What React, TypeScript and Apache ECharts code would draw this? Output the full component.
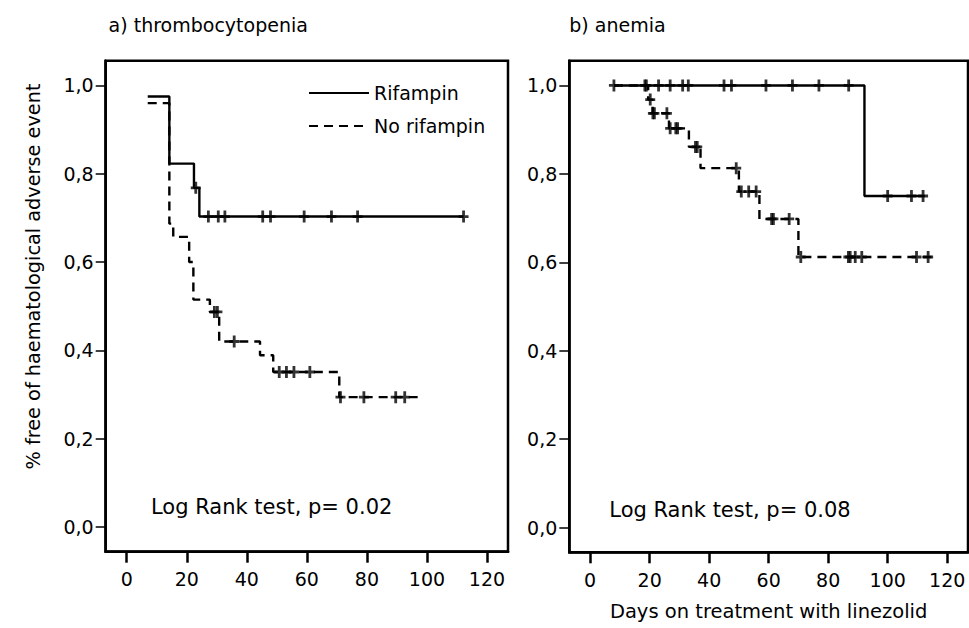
import React, { useEffect, useRef } from "react";
import * as echarts from "echarts";

const FONT = '"DejaVu Sans", "Liberation Sans", sans-serif';

const xTicks = [0, 20, 40, 60, 80, 100, 120];
const yTicks = [0, 0.2, 0.4, 0.6, 0.8, 1.0];

const panelTitles = ["a) thrombocytopenia", "b) anemia"];
const groupNames = ["Rifampin", "No rifampin"];
const logRankTexts = ["Log Rank test, p= 0.02", "Log Rank test, p= 0.08"];
const yTitle = "% free of haematological adverse event";
const xTitle = "Days on treatment with linezolid";

// a) thrombocytopenia — Kaplan-Meier steps [day, proportion free]
const thrombRifSteps = [
  [7, 0.975], [14.2, 0.823], [22.4, 0.768], [24.2, 0.703], [112.2, 0.703],
];
const thrombRifCensored = [
  [23, 0.768], [27.2, 0.703], [30.5, 0.703], [32.7, 0.703], [45.3, 0.703],
  [47.9, 0.703], [59.1, 0.703], [68.2, 0.703], [76.9, 0.703], [112.2, 0.703],
];
const thrombNoRifSteps = [
  [7, 0.96], [14.2, 0.687], [15.5, 0.657], [20.8, 0.6], [22.2, 0.515],
  [27.7, 0.487], [30.8, 0.42], [44.4, 0.389], [48.8, 0.351], [70.8, 0.294],
  [98.2, 0.294],
];
const thrombNoRifCensored = [
  [29.2, 0.487], [30.2, 0.487], [35.8, 0.42], [50.8, 0.351], [53.2, 0.351],
  [55.7, 0.351], [61, 0.351], [71.2, 0.294], [79, 0.294], [89.6, 0.294],
  [92.6, 0.294],
];

// b) anemia
const anemRifSteps = [[8, 1.0], [92.2, 0.75], [112.5, 0.75]];
const anemRifCensored = [
  [8, 1.0], [18.4, 1.0], [18.9, 1.0], [23, 1.0], [26.9, 1.0], [31.1, 1.0],
  [33, 1.0], [45, 1.0], [47.5, 1.0], [59.1, 1.0], [68, 1.0], [76.9, 1.0],
  [86.9, 1.0], [100, 0.75], [108, 0.75], [111.9, 0.75],
];
const anemNoRifSteps = [
  [8, 1.0], [19.5, 0.968], [21, 0.937], [26.5, 0.903], [33.2, 0.861],
  [37.1, 0.813], [50, 0.76], [56.9, 0.698], [70, 0.612], [114.9, 0.612],
];
const anemNoRifCensored = [
  [20.2, 0.968], [21.1, 0.937], [21.6, 0.937], [25.8, 0.937], [26.9, 0.903],
  [28.8, 0.903], [29.4, 0.903], [35.4, 0.861], [36, 0.861], [49.1, 0.813],
  [50.8, 0.76], [53.3, 0.76], [55.8, 0.76], [61, 0.698], [61.6, 0.698],
  [66.9, 0.698], [70.8, 0.612], [86.8, 0.612], [87.4, 0.612], [89.1, 0.612],
  [91.3, 0.612], [109.7, 0.612], [113.6, 0.612],
];

const PLUS = "path://M3.6,0H6.4V4.6H10V7.4H6.4V12H3.6V7.4H0V4.6H3.6Z";

export default function App() {
  const ref = useRef<HTMLDivElement>(null);

  useEffect(() => {
    if (!ref.current) return;
    const chart = echarts.init(ref.current, undefined, { renderer: "svg" });

    const grids = [
      { left: 105.7, top: 60.7, width: 402.3, height: 491 },
      { left: 569.3, top: 60.7, width: 398.7, height: 491.6 },
    ].map((g) => ({
      ...g,
      show: true,
      containLabel: false,
      outerBoundsMode: "none",
      borderColor: "#000",
      borderWidth: 2.5,
      backgroundColor: "transparent",
    }));

    const xAxis = [0, 1].map((i) => ({
      type: "value",
      gridIndex: i,
      min: -7,
      max: 127,
      axisLine: { show: true, onZero: false, lineStyle: { color: "#000", width: 2.5 } },
      axisTick: {
        show: true,
        customValues: xTicks,
        length: 11,
        lineStyle: { color: "#000", width: 2.5 },
      },
      axisLabel: {
        customValues: xTicks,
        margin: 18,
        color: "#000",
        fontSize: 19,
        fontFamily: FONT,
      },
      splitLine: { show: false },
      name: i === 1 ? xTitle : "",
      nameLocation: "middle",
      nameGap: 49,
      nameTextStyle: { color: "#000", fontSize: 19.5, fontFamily: FONT },
    }));

    const yAxis = [0, 1].map((i) => ({
      type: "value",
      gridIndex: i,
      min: -0.056,
      max: 1.056,
      axisLine: { show: true, onZero: false, lineStyle: { color: "#000", width: 2.5 } },
      axisTick: {
        show: true,
        customValues: yTicks,
        length: 10,
        lineStyle: { color: "#000", width: 1.5 },
      },
      axisLabel: {
        customValues: yTicks,
        margin: 12,
        color: "#000",
        fontSize: 19,
        fontFamily: FONT,
        formatter: (v: number) => v.toFixed(1).replace(".", ","),
      },
      splitLine: { show: false },
    }));

    const stepLine = (name: string, data: number[][], idx: number, dashed: boolean) => ({
      type: "line",
      name,
      xAxisIndex: idx,
      yAxisIndex: idx,
      data,
      step: "end",
      symbol: "none",
      showSymbol: false,
      lineStyle: { color: "#000", width: 2.4, type: dashed ? [9, 6] : "solid" },
      itemStyle: { color: "#000" },
      z: 3,
    });
    const censors = (name: string, data: number[][], idx: number) => ({
      type: "scatter",
      name,
      xAxisIndex: idx,
      yAxisIndex: idx,
      data,
      symbol: PLUS,
      symbolSize: [10, 12],
      itemStyle: { color: "#000" },
      z: 4,
    });

    chart.setOption({
      animation: false,
      textStyle: { fontFamily: FONT },
      grid: grids,
      xAxis,
      yAxis,
      legend: {
        data: groupNames,
        orient: "vertical",
        left: 308,
        top: 83,
        itemWidth: 60,
        itemHeight: 14,
        itemGap: 13,
        itemTextGap: 9,
        padding: 0,
        selectedMode: false,
        itemStyle: { opacity: 0, color: "transparent", borderWidth: 0 },
        lineStyle: { width: 2 },
        textStyle: { color: "#000", fontSize: 19, lineHeight: 20, fontFamily: FONT },
      },
      graphic: [
        {
          type: "text",
          x: 108.6,
          y: 25,
          style: { text: panelTitles[0], fill: "#000", font: `19px ${FONT}`, verticalAlign: "middle" },
        },
        {
          type: "text",
          x: 569.3,
          y: 25,
          style: { text: panelTitles[1], fill: "#000", font: `19px ${FONT}`, verticalAlign: "middle" },
        },
        {
          type: "text",
          x: 33,
          y: 276.5,
          rotation: Math.PI / 2,
          style: { text: yTitle, fill: "#000", font: `19.3px ${FONT}`, align: "center", verticalAlign: "middle" },
        },
        {
          type: "text",
          x: 151,
          y: 507,
          style: { text: logRankTexts[0], fill: "#000", font: `21px ${FONT}`, verticalAlign: "middle" },
        },
        {
          type: "text",
          x: 609.3,
          y: 510,
          style: { text: logRankTexts[1], fill: "#000", font: `21px ${FONT}`, verticalAlign: "middle" },
        },
      ],
      series: [
        stepLine(groupNames[0], thrombRifSteps, 0, false),
        stepLine(groupNames[1], thrombNoRifSteps, 0, true),
        censors("Rifampin censored (a)", thrombRifCensored, 0),
        censors("No rifampin censored (a)", thrombNoRifCensored, 0),
        stepLine(groupNames[1], anemNoRifSteps, 1, true),
        stepLine(groupNames[0], anemRifSteps, 1, false),
        censors("Rifampin censored (b)", anemRifCensored, 1),
        censors("No rifampin censored (b)", anemNoRifCensored, 1),
      ],
    });

    return () => chart.dispose();
  }, []);

  return (
    <div
      ref={ref}
      style={{ position: "fixed", left: 0, top: 0, width: 969, height: 628, background: "#fff" }}
    />
  );
}
